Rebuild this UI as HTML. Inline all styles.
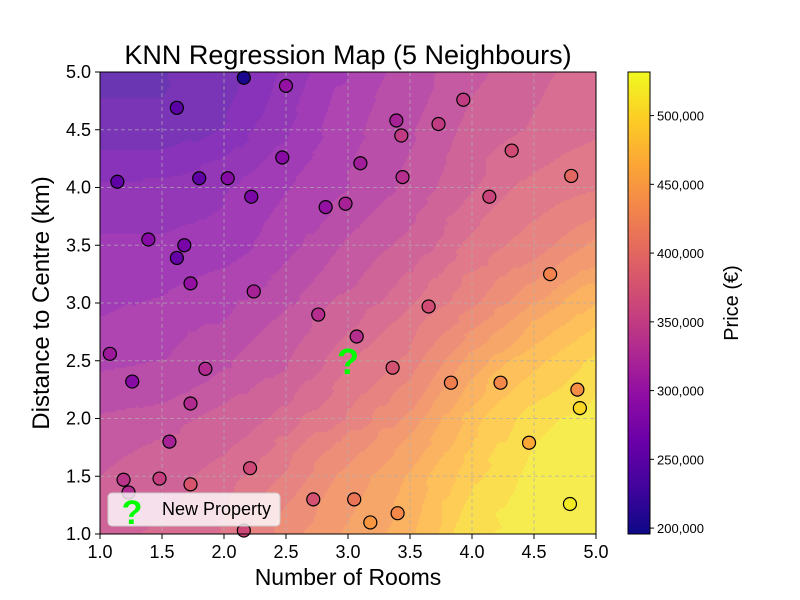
<!DOCTYPE html>
<html><head><meta charset="utf-8"><style>
body{margin:0;background:#fff;font-family:"Liberation Sans",sans-serif}
#wrap{position:relative;width:800px;height:600px}
canvas{position:absolute;left:100px;top:72px}
svg{position:absolute;left:0;top:0}
</style></head><body>
<div id="wrap">
<canvas id="bg" width="496" height="462"></canvas>
<svg id="svg" width="800" height="600"></svg>
</div>
<script>
const roomsX=[2.16,2.5,1.62,3.93,3.39,3.43,3.73,4.32,1.14,1.80,2.03,2.47,3.10,3.44,2.22,2.82,2.98,4.14,4.80,1.39,1.68,1.62,1.73,2.24,4.63,3.65,2.76,3.07,1.08,1.26,1.85,3.36,3.83,4.23,4.85,4.87,1.73,1.56,4.46,1.19,1.48,1.73,2.21,1.23,2.72,3.05,3.18,3.40,4.79,2.16];
const distY=[4.95,4.88,4.69,4.76,4.58,4.45,4.55,4.32,4.05,4.08,4.08,4.26,4.21,4.09,3.92,3.83,3.86,3.92,4.10,3.55,3.50,3.39,3.17,3.10,3.25,2.97,2.90,2.71,2.56,2.32,2.43,2.44,2.31,2.31,2.25,2.09,2.13,1.80,1.79,1.47,1.48,1.43,1.57,1.36,1.30,1.30,1.10,1.18,1.26,1.03];
const prices=[205000,300000,250000,350000,320000,350000,350000,370000,255000,255000,290000,290000,315000,335000,280000,300000,320000,360000,400000,290000,275000,260000,300000,320000,430000,370000,335000,335000,310000,290000,330000,375000,425000,435000,440000,505000,330000,320000,465000,340000,355000,380000,365000,330000,375000,415000,450000,435000,520000,365000];
// background price field (thousands) read at grid points: rows y=5.0..1.0, cols x=1.0..5.0
const fieldY=[5.0,4.5,4.0,3.5,3.0,2.5,2.0,1.5,1.0];
const fieldX=[1.0,1.5,2.0,2.5,3.0,3.5,4.0,4.5,5.0];
const fieldRow0=[235,235,240,275,300,315,340,355,365];
const fieldRow1=[240,240,255,285,305,325,350,360,370];
const fieldRow2=[275,275,285,300,315,335,360,380,390];
const fieldRow3=[290,290,295,310,335,355,380,400,430];
const fieldRow4=[300,305,315,330,350,375,400,440,470];
const fieldRow5=[310,315,330,345,375,400,450,480,510];
const fieldRow6=[335,340,350,370,395,430,480,515,525];
const fieldRow7=[345,355,370,395,430,460,500,525,530];
const fieldRow8=[355,365,380,420,445,470,520,530,530];
const field=[fieldRow0,fieldRow1,fieldRow2,fieldRow3,fieldRow4,fieldRow5,fieldRow6,fieldRow7,fieldRow8];
const cbTicks=[200000,250000,300000,350000,400000,450000,500000];
const xTicks=[1.0,1.5,2.0,2.5,3.0,3.5,4.0,4.5,5.0];
const yTicks=[1.0,1.5,2.0,2.5,3.0,3.5,4.0,4.5,5.0];
const newProp=[3.0,2.5];

const L=100,R=596,T=72,B=534,VMIN=195700,VMAX=531700;
const sx=v=>L+(v-1)*(R-L)/4, sy=v=>B-(v-1)*(B-T)/4;
const stops=["#0d0887","#41049d","#6a00a8","#8f0da4","#b12a90","#cc4778","#e16462","#f2844b","#fca636","#fcce25","#f0f921"].map(h=>[parseInt(h.slice(1,3),16),parseInt(h.slice(3,5),16),parseInt(h.slice(5,7),16)]);
function cmap(t){t=Math.max(0,Math.min(1,t));const f=t*10,i=Math.min(9,Math.floor(f)),u=f-i;return stops[i].map((c,k)=>Math.round(c+(stops[i+1][k]-c)*u));}
const norm=p=>(p-VMIN)/(VMAX-VMIN);
function fieldAt(x,y){
 const fx=(x-fieldX[0])/0.5, fy=(fieldY[0]-y)/0.5;
 const i=Math.max(0,Math.min(7,Math.floor(fx))), j=Math.max(0,Math.min(7,Math.floor(fy)));
 const u=Math.max(0,Math.min(1,fx-i)), v=Math.max(0,Math.min(1,fy-j));
 return 1000*((field[j][i]*(1-u)+field[j][i+1]*u)*(1-v)+(field[j+1][i]*(1-u)+field[j+1][i+1]*u)*v);
}
const cv=document.getElementById('bg'),ctx=cv.getContext('2d');
const step=2;
for(let py=0;py<462;py+=step){for(let px=0;px<496;px+=step){
 const x=1+(px+1)*4/496,y=5-(py+1)*4/462;
 const d=roomsX.map((rx,i)=>[(rx-x)**2+(distY[i]-y)**2,prices[i]]).sort((a,b)=>a[0]-b[0]);
 let m=0;for(let k=0;k<5;k++)m+=d[k][1];m/=5;
 const val=0.8*fieldAt(x,y)+0.2*m;
 const q=Math.floor(val/15000)*15000+7500;
 const c=cmap(norm(q)).map(v=>Math.round(v*0.8+255*0.2));
 ctx.fillStyle=`rgb(${c})`;ctx.fillRect(px,py,step,step);}}
const svg=document.getElementById('svg'),NS="http://www.w3.org/2000/svg";
function el(tag,attrs,txt){const e=document.createElementNS(NS,tag);for(const k in attrs)e.setAttribute(k,attrs[k]);if(txt!==undefined)e.textContent=txt;svg.appendChild(e);return e;}
xTicks.forEach(v=>{const g=el('line',{x1:sx(v),x2:sx(v),y1:T,y2:B,stroke:'#b0b0b0','stroke-dasharray':'4,3','stroke-width':1,opacity:0.7});
});
yTicks.forEach(v=>{const g=el('line',{x1:L,x2:R,y1:sy(v),y2:sy(v),stroke:'#b0b0b0','stroke-dasharray':'4,3','stroke-width':1,opacity:0.7});
});
roomsX.forEach((rx,i)=>{const c=cmap(norm(prices[i]));
const p=el('circle',{cx:sx(rx),cy:sy(distY[i]),r:6.5,fill:`rgb(${c})`,stroke:'#000','stroke-width':1.2});
});
const np=el('text',{x:sx(newProp[0]),y:sy(newProp[1])+13,'text-anchor':'middle','font-size':36,'font-weight':'bold',fill:'#00ff00'},'?');

const fr=el('rect',{x:L,y:T,width:R-L,height:B-T,fill:'none',stroke:'#000','stroke-width':1});

xTicks.forEach(v=>{el('line',{x1:sx(v),x2:sx(v),y1:B,y2:B+5,stroke:'#000'});
const t=el('text',{x:sx(v),y:B+24,'text-anchor':'middle','font-size':18},v.toFixed(1));
});
yTicks.forEach(v=>{el('line',{x1:L-5,x2:L,y1:sy(v),y2:sy(v),stroke:'#000'});
const t=el('text',{x:L-9,y:sy(v)+6,'text-anchor':'end','font-size':18},v.toFixed(1));
});
const ti=el('text',{x:348,y:64,'text-anchor':'middle','font-size':27},'KNN Regression Map (5 Neighbours)');

const xl=el('text',{x:348,y:585,'text-anchor':'middle','font-size':23},'Number of Rooms');

const yl=el('text',{x:49,y:303,'text-anchor':'middle','font-size':24,transform:'rotate(-90 49 303)'},'Distance to Centre (km)');

const lg=el('rect',{x:108,y:493,width:172,height:33,rx:4,fill:'#fff','fill-opacity':0.8,stroke:'#ccc'});

const lq=el('text',{x:132,y:524,'text-anchor':'middle','font-size':34,'font-weight':'bold',fill:'#00ff00'},'?');

const lt=el('text',{x:162,y:515,'font-size':18},'New Property');

const CL=628,CR=650;
const defs=el('defs',{});const gr=document.createElementNS(NS,'linearGradient');
gr.setAttribute('id','cg');gr.setAttribute('x1',0);gr.setAttribute('x2',0);gr.setAttribute('y1',1);gr.setAttribute('y2',0);
stops.forEach((s,i)=>{const st=document.createElementNS(NS,'stop');st.setAttribute('offset',i/10);st.setAttribute('stop-color',`rgb(${s})`);gr.appendChild(st);});
defs.appendChild(gr);
const cb=el('rect',{x:CL,y:T,width:CR-CL,height:B-T,fill:'url(#cg)',stroke:'#000','stroke-width':1});

const cy=p=>B-(p-VMIN)/(VMAX-VMIN)*(B-T);
cbTicks.forEach(p=>{el('line',{x1:CR,x2:CR+4,y1:cy(p),y2:cy(p),stroke:'#000'});
const t=el('text',{x:CR+7,y:cy(p)+5,'font-size':13},p.toLocaleString('en-US'));
});
const cl=el('text',{x:738,y:303,'text-anchor':'middle','font-size':20,transform:'rotate(-90 738 303)'},'Price (€)');

</script></body></html>
